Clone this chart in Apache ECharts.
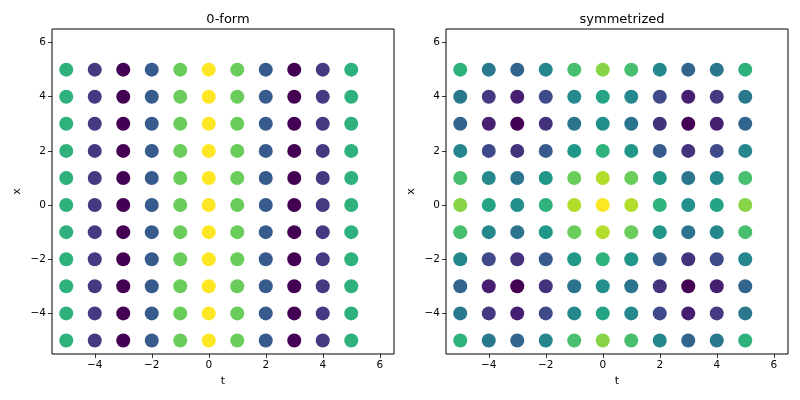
<!DOCTYPE html>
<html>
<head>
<meta charset="utf-8">
<script src="https://cdn.jsdelivr.net/npm/echarts@6/dist/echarts.min.js"></script>
<style>
  html, body { margin: 0; padding: 0; background: #fff; }
  #main { width: 800px; height: 400px; }
</style>
</head>
<body>
<div id="main"></div>
<script>
// grid coordinates
var tValues = [-5, -4, -3, -2, -1, 0, 1, 2, 3, 4, 5];
var xValues = [-5, -4, -3, -2, -1, 0, 1, 2, 3, 4, 5];
var tickValues = [-4, -2, 0, 2, 4, 6];

// 0-form: colour only depends on t (one value per column)
var formValues = [0.28, -0.65, -0.99, -0.42, 0.54, 1.00, 0.54, -0.42, -0.99, -0.65, 0.28];

// symmetrized: one row per x (from -5 to 5), one column per t
var symValues = [
  [ 0.28, -0.19, -0.35, -0.07,  0.41,  0.64,  0.41, -0.07, -0.35, -0.19,  0.28],
  [-0.19, -0.65, -0.82, -0.54, -0.06,  0.17, -0.06, -0.54, -0.82, -0.65, -0.19],
  [-0.35, -0.82, -0.99, -0.70, -0.23,  0.00, -0.23, -0.70, -0.99, -0.82, -0.35],
  [-0.07, -0.54, -0.70, -0.42,  0.06,  0.29,  0.06, -0.42, -0.70, -0.54, -0.07],
  [ 0.41, -0.06, -0.23,  0.06,  0.54,  0.77,  0.54,  0.06, -0.23, -0.06,  0.41],
  [ 0.64,  0.17,  0.00,  0.29,  0.77,  1.00,  0.77,  0.29,  0.00,  0.17,  0.64],
  [ 0.41, -0.06, -0.23,  0.06,  0.54,  0.77,  0.54,  0.06, -0.23, -0.06,  0.41],
  [-0.07, -0.54, -0.70, -0.42,  0.06,  0.29,  0.06, -0.42, -0.70, -0.54, -0.07],
  [-0.35, -0.82, -0.99, -0.70, -0.23,  0.00, -0.23, -0.70, -0.99, -0.82, -0.35],
  [-0.19, -0.65, -0.82, -0.54, -0.06,  0.17, -0.06, -0.54, -0.82, -0.65, -0.19],
  [ 0.28, -0.19, -0.35, -0.07,  0.41,  0.64,  0.41, -0.07, -0.35, -0.19,  0.28]
];

var viridis = ['#440154', '#482878', '#3e4989', '#31688e', '#26828e',
               '#1f9e89', '#35b779', '#6ece58', '#b5de2b', '#fde725'];

var formData = [];
var symData = [];
xValues.forEach(function (x, i) {
  tValues.forEach(function (t, j) {
    formData.push([t, x, formValues[j]]);
    symData.push([t, x, symValues[i][j]]);
  });
});

var font = 'DejaVu Sans';
var minus = function (v) { return String(v).replace('-', '\u2212'); };

function makeAxis(idx, name, isX) {
  return {
    type: 'value',
    gridIndex: idx,
    min: -5.5,
    max: 6.5,
    name: name,
    nameLocation: 'middle',
    nameGap: isX ? 22 : 29,
    nameTextStyle: { color: '#000', fontFamily: font, fontSize: 11 },
    axisLine: { show: false, onZero: false },
    axisTick: {
      show: true, inside: false, length: 4,
      customValues: tickValues,
      lineStyle: { color: '#000', width: 0.8 }
    },
    axisLabel: {
      color: '#000', fontFamily: font, fontSize: 10.5, margin: 6,
      customValues: tickValues,
      formatter: minus
    },
    splitLine: { show: false }
  };
}

var chart = echarts.init(document.getElementById('main'));
var option = {
  animation: false,
  backgroundColor: '#fff',
  title: [
    { text: '0-form', left: 223, top: 8, textAlign: 'center',
      textStyle: { fontFamily: font, fontSize: 13, fontWeight: 'normal', color: '#000' } },
    { text: 'symmetrized', left: 617, top: 8, textAlign: 'center',
      textStyle: { fontFamily: font, fontSize: 13, fontWeight: 'normal', color: '#000' } }
  ],
  grid: [
    { left: 52, right: 406, top: 29, bottom: 46, show: true, borderColor: '#000', borderWidth: 1, backgroundColor: 'transparent' },
    { left: 446, right: 12, top: 29, bottom: 46, show: true, borderColor: '#000', borderWidth: 1, backgroundColor: 'transparent' }
  ],
  xAxis: [makeAxis(0, 't', true), makeAxis(1, 't', true)],
  yAxis: [makeAxis(0, 'x', false), makeAxis(1, 'x', false)],
  visualMap: [
    { show: false, type: 'continuous', seriesIndex: 0, dimension: 2,
      min: -0.99, max: 1.0, inRange: { color: viridis } },
    { show: false, type: 'continuous', seriesIndex: 1, dimension: 2,
      min: -0.99, max: 1.0, inRange: { color: viridis } }
  ],
  series: [
    { name: '0-form', type: 'scatter', xAxisIndex: 0, yAxisIndex: 0,
      symbolSize: 14, itemStyle: { opacity: 1 }, data: formData },
    { name: 'symmetrized', type: 'scatter', xAxisIndex: 1, yAxisIndex: 1,
      symbolSize: 14, itemStyle: { opacity: 1 }, data: symData }
  ]
};
chart.setOption(option);
</script>
</body>
</html>
